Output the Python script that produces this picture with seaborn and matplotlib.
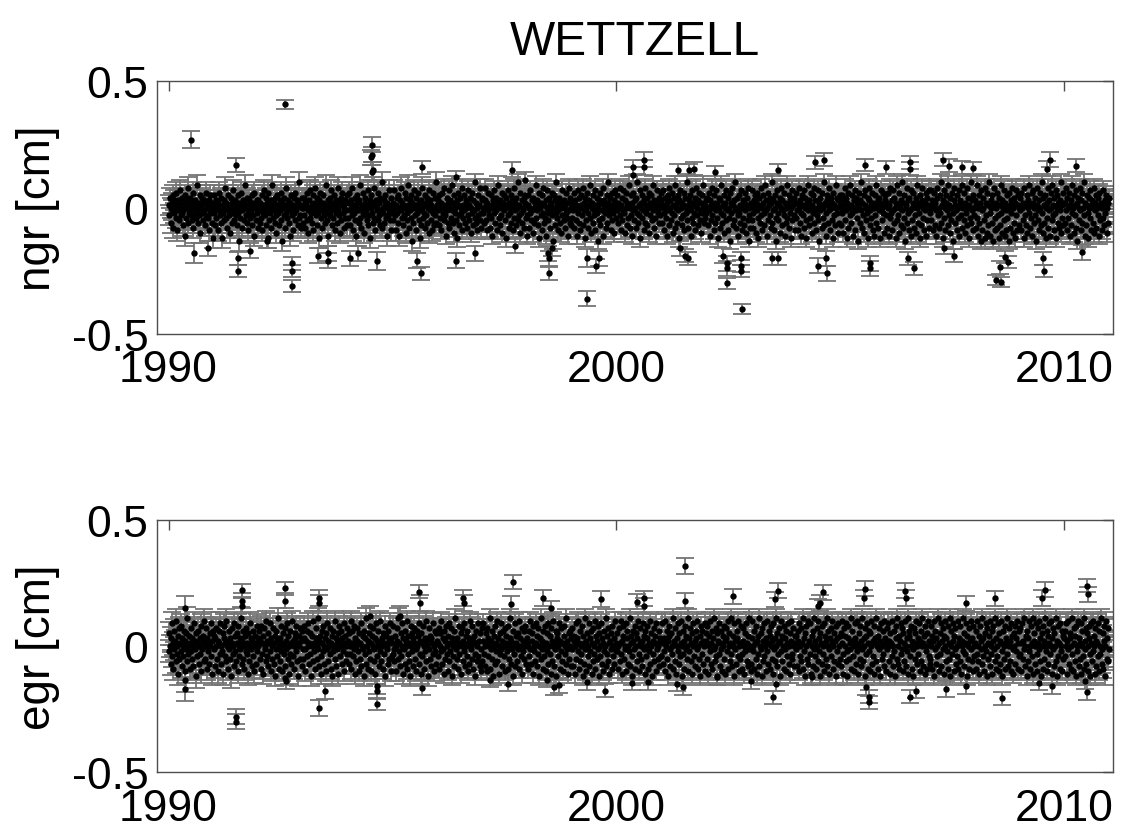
"""
WETTZELL north / east gradients with formal errors.
"""

import matplotlib
matplotlib.use("Agg")
import matplotlib.pyplot as plt
import seaborn as sns

YEARS = list(range(1990, 2011))

# bulk of the sessions, hundredths of cm, one string per year
NGR_BAND = [
    "1 -3 4 -6 0 2 -1 -8 5 3 -2 0 -4 6 -9 1 -1 3 -5 2 7 -3 0 -2 4 -7 -1 2 -11 5 0 -4 3 1 -6 8 -2 -1 4 -3 0 -5 2 6 -8 1 -2 3 -4 0 9 -1 -6 2 -3 5 -10 1 0 -2 4 -5 3 -1 -7 2 6 -3 0 1 -4 -9 3 -1 5 -2 0 -6 2 -12",
    "-2 5 -7 0 3 -4 1 -9 2 -1 6 -3 0 -6 4 -12 1 -2 3 -5 8 0 -4 2 -8 -1 5 -3 1 -10 0 4 -6 2 -2 7 -5 -1 3 0 -3 1 -7 5 -2 -13 2 0 -4 6 -1 -8 3 1 -5 2 9 -3 0 -6 4 -2 -9 1 3 -4 0 -1 5 -7 2 -3 6 -11 0 1 -5 3 -2 -8",
    "3 -1 -6 2 0 -4 5 -9 1 -2 7 -3 -1 4 -7 0 2 -12 6 -5 1 -2 3 -8 0 9 -4 -1 2 -6 4 -3 -10 1 5 -2 0 -7 3 -1 6 -5 2 -13 0 -3 4 1 -8 -2 8 -4 0 3 -6 -1 2 -11 5 0 -3 1 -9 4 -2 6 -5 0 -1 3 -7 2 -4 10 -3 1 -8 0 4 -6",
    "0 4 -3 -8 2 1 -5 6 -1 -10 3 0 -4 7 -2 -6 1 5 -9 2 -1 8 -3 0 -7 4 -2 1 -12 3 6 -4 0 -1 -8 2 5 -3 1 -6 9 -2 0 -5 3 -11 1 4 -3 -1 7 -7 2 0 -4 5 -9 1 -2 3 -6 0 8 -1 -3 2 -10 4 -5 1 6 -2 0 -8 3 -4 2 -1 -7 5",
    "-4 2 6 -1 -7 3 0 -3 8 -9 1 -2 4 -5 0 -11 5 2 -1 -6 3 9 -4 0 -8 1 -2 6 -3 -10 2 4 -1 0 -5 7 -7 1 -3 3 -12 0 5 -2 -6 2 8 -4 1 -9 3 -1 0 -5 6 -3 2 -7 4 -1 10 -8 0 -2 3 -6 1 5 -4 -11 2 0 -3 7 -1 -5 4 -9 1 -2",
    "2 -5 0 7 -3 -9 1 4 -2 -6 5 0 -11 3 -1 8 -4 2 -7 1 -3 6 0 -10 4 -2 -5 9 1 -8 3 -1 -4 5 -13 2 0 -6 7 -3 1 -9 4 -2 0 6 -5 2 -12 -1 3 -7 8 0 -4 1 -2 5 -8 -3 2 4 -6 0 -10 7 -1 3 -5 1 -9 6 -2 0 -7 4 -3 10 -6 1",
    "-1 3 -7 5 0 -4 2 -9 6 -2 1 -5 8 -3 0 -11 4 -1 2 -6 7 -8 0 3 -4 -1 9 -6 2 -10 5 -2 0 -5 3 -12 1 6 -3 -7 4 0 -2 8 -9 1 -4 5 -1 -6 3 0 -8 2 7 -3 -5 1 4 -10 0 -2 6 -7 3 -1 -4 10 -6 2 0 -9 5 -3 1 -5 8 -2 -8 3",
    "4 -2 0 -6 3 8 -5 1 -9 2 -1 6 -3 -8 0 5 -4 1 -11 3 7 -2 0 -6 4 -1 -9 2 9 -4 1 -7 3 0 -3 6 -10 2 -1 5 -5 0 -12 4 1 -3 7 -8 2 -2 0 5 -6 3 -9 1 8 -4 -1 2 -7 4 0 -5 10 -3 1 -10 6 -2 3 -6 0 -1 4 -8 2 5 -4 -11",
    "-3 1 5 -8 0 -2 7 -5 3 -1 -10 4 0 -6 2 9 -4 -1 3 -7 1 -12 6 0 -3 2 -9 5 -2 8 -6 1 -4 3 -11 0 7 -2 -5 4 1 -8 2 -1 6 -3 -13 0 5 -7 3 -2 10 -4 1 -9 -1 4 -6 2 0 -10 7 -3 1 -5 3 -8 0 6 -2 -4 2 -11 8 -1 -6 4 0 -7",
    "2 -4 -1 6 -8 3 0 -5 1 -11 7 -2 4 -6 0 -9 5 1 -3 8 -7 -1 2 -12 4 0 -5 6 -2 -8 3 1 -4 9 -10 0 2 -6 5 -3 -1 7 -9 1 -2 4 -13 0 3 -5 6 -7 2 -1 -4 8 -11 1 3 -2 0 -8 5 -6 2 10 -3 -1 4 -9 1 6 -5 0 -2 3 -10 7 -4 1",
    "-1 5 -6 2 0 -3 8 -9 1 4 -5 -1 7 -2 -10 3 0 6 -7 2 -4 1 9 -8 0 -3 5 -11 2 -1 6 -5 3 0 -8 4 -2 10 -6 1 -3 7 -12 2 0 -4 5 -1 -9 3 8 -6 1 -2 4 -7 0 6 -10 2 -3 1 5 -5 -1 9 -8 3 0 -4 2 -11 7 -2 1 -6 4 0 -3 6",
    "3 -6 1 7 -2 -9 0 4 -4 2 -11 5 -1 8 -7 0 3 -5 -2 6 -10 1 4 -3 9 -8 0 2 -6 5 -1 -12 3 7 -4 0 -7 2 1 -3 6 -9 4 -2 0 10 -5 1 -8 3 -1 5 -11 0 7 -4 2 -6 -2 4 -9 1 8 -3 0 -7 3 6 -5 -1 2 -10 5 -2 0 9 -6 1 -4 3",
    "-2 4 0 -7 6 -1 -11 3 1 -5 8 -3 0 -9 5 2 -6 -1 7 -4 1 -12 4 0 -8 3 -2 9 -6 1 -3 5 -10 0 2 -5 7 -1 -9 4 0 -4 6 -13 2 -2 8 -7 1 3 -5 -1 10 -8 0 4 -3 -11 5 -2 1 -6 7 -9 0 3 -4 2 -7 6 -1 -10 4 1 -5 8 -3 0 -8 2",
    "1 -5 7 -2 -8 3 0 5 -10 2 -1 6 -4 -12 4 1 -6 8 -3 0 -9 5 2 -2 -7 9 -1 3 -11 0 6 -5 1 -3 4 -8 2 10 -6 -1 3 -9 0 5 -4 -13 2 7 -2 -5 1 4 -10 0 8 -7 3 -1 -3 6 -11 2 0 -6 9 -4 1 -8 5 -2 3 -12 0 7 -5 1 -3 4 -9 2",
    "-4 6 -1 2 -9 0 8 -6 3 -2 -11 5 1 -3 7 -8 0 4 -5 -12 2 9 -1 -7 3 0 -4 6 -10 1 5 -2 -6 8 -1 3 -9 0 -3 7 -5 2 -13 4 -1 1 -8 6 0 -4 10 -7 2 -2 -11 5 3 -6 1 -1 8 -9 0 4 -5 2 -12 6 -3 1 -7 9 0 -2 4 -10 3 -6 1 5",
    "0 -7 5 -2 3 -10 1 8 -5 -1 4 -12 2 6 -8 0 -3 9 -6 1 -2 5 -11 3 0 7 -9 -1 4 -4 2 -13 6 0 -6 3 -1 10 -8 2 -3 5 -10 1 7 -5 0 -2 4 -12 3 8 -7 -1 1 -4 6 -9 2 0 -11 5 -3 9 -6 1 3 -8 -1 4 -12 2 7 -5 0 -2 6 -10 1 3",
    "5 -3 -8 2 0 6 -11 1 -4 8 -2 3 -9 -1 7 -6 4 0 -12 2 9 -5 1 -3 -10 6 0 -7 3 -1 10 -8 2 -4 5 -13 1 0 -6 8 -2 3 -9 4 -1 -11 7 0 -5 2 6 -8 1 -3 -10 4 0 9 -6 2 -2 -12 5 1 -7 3 8 -4 0 -9 2 -1 6 -11 4 -5 1 7 -8 0",
    "-2 7 -5 1 3 -9 0 6 -7 2 -1 -11 4 8 -3 0 -8 5 -2 10 -6 1 -12 3 7 -4 0 -9 2 5 -1 -7 9 -3 1 -10 4 0 -5 6 -2 -13 3 8 -6 1 -1 -9 5 0 -4 7 -11 2 3 -3 9 -8 0 1 -5 6 -10 2 -2 8 -7 0 4 -12 1 -4 10 -6 3 -1 -9 5 0 -3",
    "3 -8 1 -4 9 -11 0 5 -6 2 -13 7 -1 -9 4 0 -5 8 -12 2 -3 6 -10 1 -7 10 -2 -11 3 0 -6 5 -13 1 8 -4 -9 2 0 -8 6 -3 -12 4 1 -7 9 -2 -10 3 0 -5 7 -11 2 -1 -9 5 -4 0 -13 6 1 -8 3 -2 8 -10 0 4 -6 -12 2 7 -3 -9 1 5 -7 0",
    "-1 4 -9 6 0 -5 2 -12 8 -3 1 -7 5 -10 0 3 -2 9 -8 1 -4 6 -11 2 7 -6 0 -3 4 -13 1 8 -5 -1 3 -9 6 0 -7 10 -2 -10 4 1 -6 5 -12 0 2 -4 8 -8 -1 3 -11 6 0 -5 9 -3 1 -9 4 -2 7 -12 0 5 -6 2 -8 3 -1 10 -10 1 -4 6 -7 2",
    "2 -6 8 -1 -9 4 0 -4 6 -11 1 3 -7 9 -2 0 -10 5 -3 1 7 -8 2 -13 4 0 -5 8 -1 -9 3 6 -6 0 -3 10 -11 2 1 -7 5 -2 -12 4 0 -4 7 -9 1 3 -6 0 8 -10 2 -1 5 -8 0 -3 4 -11 6 1 -5 2 -9 0 7 -4 1 -7 3 -2 5 -10 0 2 -6 4",
]
NGR_SIG = [0.04, 0.04, 0.04, 0.04, 0.04, 0.04, 0.035, 0.035, 0.035, 0.035, 0.035,
           0.035, 0.035, 0.035, 0.035, 0.035, 0.035, 0.035, 0.035, 0.035, 0.035]

# single sessions outside the bulk
NGR_OUT_T = [1990.50, 1992.60, 1991.51, 1994.54, 1994.55, 1994.53, 1994.56, 1994.54, 1995.66, 1996.41,
             1990.56, 1991.54, 1991.54, 1992.75, 1992.75, 1992.75, 1990.87, 1993.33, 1993.57, 1993.57,
             1994.06, 1994.24, 1994.65, 1995.54, 1995.63, 1996.42, 1996.85, 1992.20, 1991.81, 1997.67,
             1997.96, 1997.74, 1998.50, 1998.50, 1998.48, 1998.57, 1999.34, 1999.34, 1999.54, 1999.60,
             2000.38, 2000.38, 2000.62, 2000.62, 2001.38, 2001.63, 2001.74, 2002.19, 2001.42, 2001.53,
             2001.60, 2002.46, 2002.46, 2002.48, 2002.37, 2002.78, 2002.78, 2002.78, 2002.81, 2002.95,
             2003.47, 2003.60, 2003.60, 2004.44, 2004.64, 2004.51, 2004.70, 2004.68, 2005.55, 2005.66,
             2005.67, 2006.02, 2006.55, 2006.56, 2006.52, 2006.65, 2007.30, 2007.43, 2007.72, 2007.97,
             2007.32, 2007.54, 2008.56, 2008.48, 2008.58, 2008.68, 2008.75, 2009.53, 2009.55, 2009.68,
             2009.62, 2010.26, 2010.39]
NGR_OUT_V = [0.27, 0.41, 0.17, 0.25, 0.21, 0.20, 0.15, 0.14, 0.16, 0.12,
             -0.18, -0.20, -0.25, -0.22, -0.25, -0.31, -0.16, -0.19, -0.18, -0.21,
             -0.20, -0.18, -0.21, -0.21, -0.26, -0.21, -0.18, -0.13, -0.17, 0.15,
             0.11, -0.15, -0.26, -0.20, -0.18, -0.16, -0.36, -0.20, -0.23, -0.20,
             0.16, 0.13, 0.19, 0.16, 0.15, 0.15, 0.155, 0.14, -0.16, -0.19,
             -0.20, -0.30, -0.24, -0.22, -0.19, -0.25, -0.23, -0.20, -0.40, -0.13,
             -0.20, -0.20, 0.15, 0.18, 0.19, -0.23, -0.26, -0.20, 0.17, -0.24,
             -0.22, 0.16, 0.155, 0.18, -0.20, -0.24, 0.19, 0.167, 0.16, 0.156,
             -0.16, -0.19, -0.236, -0.285, -0.295, -0.195, -0.215, -0.20, -0.25, 0.19,
             0.155, 0.167, -0.177]
NGR_OUT_E = [0.033, 0.017, 0.027, 0.03, 0.03, 0.03, 0.03, 0.03, 0.025, 0.025,
             0.04, 0.025, 0.024, 0.025, 0.025, 0.025, 0.03, 0.03, 0.03, 0.03,
             0.03, 0.03, 0.036, 0.03, 0.025, 0.03, 0.03, 0.03, 0.03, 0.03,
             0.03, 0.03, 0.027, 0.03, 0.03, 0.03, 0.03, 0.035, 0.027, 0.03,
             0.03, 0.03, 0.03, 0.03, 0.025, 0.025, 0.025, 0.025, 0.03, 0.025,
             0.025, 0.02, 0.03, 0.03, 0.03, 0.025, 0.025, 0.025, 0.02, 0.025,
             0.025, 0.025, 0.025, 0.025, 0.025, 0.03, 0.03, 0.03, 0.025, 0.03,
             0.03, 0.025, 0.025, 0.025, 0.025, 0.027, 0.025, 0.025, 0.025, 0.025,
             0.025, 0.025, 0.025, 0.02, 0.02, 0.025, 0.025, 0.025, 0.025, 0.03,
             0.03, 0.025, 0.03]

EGR_BAND = [
    "-2 5 0 -7 3 9 -4 1 -9 6 -1 2 -6 10 -3 0 -11 4 7 -5 1 -2 8 -8 3 0 -4 6 -10 2 -1 5 -6 11 0 -3 4 -9 1 7 -2 -5 3 0 -8 9 -1 2 -12 5 -4 1 6 -7 0 3 -3 8 -10 1 -1 4 -6 10 2 -5 0 7 -9 3 -2 1 -7 5 0 -4 9 -11 2 6",
    "4 -1 -8 3 0 7 -5 2 -10 6 1 -3 9 -7 0 -2 5 -11 3 8 -4 1 -6 10 0 -9 2 -1 6 -5 3 -12 7 1 -3 0 9 -8 4 -2 -6 5 1 -10 8 0 -4 3 -1 11 -7 2 -5 6 0 -9 4 -2 7 -3 1 -11 5 0 -6 9 -1 3 -8 2 6 -4 0 -10 4 1 -7 8 -2 3",
    "0 6 -5 2 -9 8 1 -3 4 -11 7 -1 0 -6 10 -4 2 -8 5 1 -2 9 -10 3 0 -5 7 -7 1 4 -12 6 -1 2 -4 11 -9 0 3 -6 8 -2 1 -10 5 -3 0 7 -8 2 -1 9 -5 4 -11 0 6 -3 1 -7 10 2 -4 0 -9 5 3 -2 8 -6 1 -12 4 0 7 -5 2 -8 6 -1",
    "-5 3 8 -1 -10 2 6 -4 0 9 -7 1 -3 5 -12 4 0 -6 10 -2 1 -9 7 3 -5 0 -1 11 -8 2 4 -4 -11 6 1 -2 8 -7 0 3 -10 5 -1 9 -6 2 0 -3 7 -9 1 4 -12 6 -2 0 10 -5 3 -8 1 -1 5 -11 8 2 -4 0 6 -7 3 -2 9 -10 1 4 -6 0 7 -3",
    "2 -7 5 0 -3 10 -9 1 6 -4 -1 8 -11 3 0 -6 7 2 -2 -10 5 1 -5 9 -8 0 4 -1 -12 6 3 -3 11 -7 0 2 -9 5 -2 8 -5 1 -10 4 0 7 -6 -1 3 -11 9 2 -4 0 6 -8 1 -2 10 -6 3 0 -9 5 -3 1 8 -12 4 -1 0 6 -7 2 -5 9 -10 3 1 -4",
    "-3 8 -1 -6 4 0 -10 7 2 -5 11 -2 1 -8 5 -4 0 9 -11 3 -1 6 -7 2 0 -9 10 -3 4 -6 1 -12 8 0 -2 5 -8 3 7 -5 1 -1 -10 6 0 4 -7 9 -3 2 -11 5 1 -4 8 0 -9 3 -2 10 -6 2 0 -12 7 -1 4 -5 3 -8 1 9 -3 0 -10 6 -2 5 -7 2",
    "1 -4 7 -9 0 5 -2 10 -7 3 -1 -11 6 2 -5 8 0 -3 4 -10 9 -6 1 -2 7 -12 3 0 -4 6 -8 2 11 -1 -5 3 0 -9 8 -3 1 5 -11 0 7 -6 2 -2 9 -8 4 0 -4 6 -10 1 3 -7 10 -1 0 -5 8 -9 2 4 -3 -12 6 1 -6 0 9 -4 2 -8 5 -1 -10 7",
    "-6 2 9 -3 0 -8 5 1 -10 7 3 -4 0 11 -9 2 -1 6 -5 -12 4 0 8 -7 1 -2 10 -6 3 0 -11 5 -3 9 -1 2 -8 6 -4 0 7 -10 1 4 -2 -9 8 0 -5 3 11 -7 2 -1 -12 6 0 -3 9 -8 4 1 -6 5 -1 10 -9 0 3 -4 7 -11 2 -2 6 -5 0 8 -7 1",
    "3 -9 0 6 -4 10 -1 -7 2 5 -11 8 -2 0 -6 9 1 -8 4 -3 7 -12 0 3 -5 11 -1 2 -9 6 -4 0 8 -10 1 5 -2 -7 9 0 -3 4 -11 7 2 -6 0 10 -8 1 -1 6 -12 3 5 -4 0 9 -9 2 -2 7 -6 1 -10 4 8 -3 0 -7 11 -1 2 -11 5 -5 0 6 -8 3",
    "-1 7 -8 2 4 -11 0 9 -5 3 -2 10 -9 1 6 -6 0 -3 8 -12 4 1 -7 11 -1 2 -10 5 -4 0 9 -8 3 -2 6 -11 1 7 -6 0 -3 10 -9 4 2 -5 8 -1 -12 5 0 -4 9 -7 3 1 -10 6 -2 0 11 -8 4 -3 -6 7 1 -11 2 5 -1 -9 8 0 -4 3 -7 10 -2 1",
    "5 -2 0 -9 7 1 -6 10 -3 2 -11 4 8 -5 0 -1 9 -10 3 6 -7 0 -2 11 -8 1 4 -4 -12 6 2 -1 8 -9 0 5 -6 3 10 -3 -10 1 7 -5 0 2 -8 9 -1 4 -11 6 0 -4 3 8 -9 1 -2 10 -7 5 0 -12 2 -3 7 -6 1 4 -10 9 -1 0 -5 6 -8 3 2 -4",
    "-4 9 1 -7 3 -2 10 -10 0 6 -5 2 -12 8 4 -1 -8 5 0 -3 11 -9 2 1 -6 7 -11 3 0 -2 9 -7 5 -4 1 10 -12 0 6 -3 2 -9 8 -1 4 -5 0 11 -10 3 -2 7 -6 1 5 -11 9 0 -4 2 -8 6 3 -1 10 -9 0 -5 4 -12 8 1 -3 6 -7 2 0 9 -10 5",
    "2 -5 8 -11 0 4 -2 10 -7 1 6 -9 3 -1 11 -6 0 -4 7 -12 5 2 -3 9 -8 1 -1 6 -10 4 0 8 -5 2 -11 7 3 -2 10 -9 0 5 -6 1 -3 11 -8 4 0 -12 9 -1 2 -7 6 3 -4 10 -10 0 1 -5 8 -3 -9 7 2 0 -11 5 -2 9 -6 1 4 -8 11 -1 0 -10",
    "-7 3 10 -2 0 -9 6 1 -5 8 -11 2 4 -3 11 -8 0 5 -1 -12 7 2 -6 9 -4 0 3 -10 10 -2 1 -7 6 4 -9 0 8 -5 2 -11 9 -1 3 -6 0 11 -8 5 1 -3 7 -12 2 -2 10 -6 4 0 -9 8 -1 3 -10 6 1 -4 9 -7 0 5 -11 2 10 -3 -5 7 0 -8 4 1",
    "4 -1 -8 6 2 -10 9 0 -4 7 -6 1 11 -9 3 -2 5 -12 8 0 -5 10 -7 2 1 -3 9 -11 4 0 6 -8 -1 11 -4 2 -9 7 0 -6 10 -2 3 -12 5 1 -7 8 -3 0 9 -10 4 2 -5 11 -8 0 6 -1 -11 3 7 -4 1 10 -9 0 5 -6 2 8 -12 3 -2 9 -7 0 4 -5",
    "-8 5 1 10 -3 -11 7 0 4 -6 9 -2 -12 3 8 -5 1 -1 11 -9 2 6 -4 0 -10 9 3 -7 1 -2 10 -11 5 0 -5 8 2 -8 -1 11 -6 3 0 -12 7 4 -3 9 -9 1 -2 6 -10 5 0 10 -7 2 -4 8 -11 1 3 -6 11 0 -9 4 -1 7 -12 2 9 -5 0 -3 6 -8 10 1",
    "3 -10 7 -1 0 9 -6 2 -11 5 1 -4 10 -8 0 6 -2 -12 8 3 -5 11 -7 0 4 -9 2 9 -3 -1 7 -10 5 1 -6 10 0 -8 3 -2 11 -11 4 6 -4 0 8 -9 2 -1 -12 7 5 -5 1 10 -7 0 3 -3 9 -10 2 6 -6 0 11 -8 1 4 -11 8 -2 0 5 -9 10 -4 2 -7",
    "-5 8 0 -9 4 2 -12 10 -1 6 -7 3 0 -4 11 -10 1 5 -3 9 -8 2 -1 7 -11 4 0 10 -6 3 -2 -9 8 1 -5 11 -12 0 6 -3 2 9 -10 4 -1 7 -7 0 -4 10 -9 3 1 -6 8 -11 2 0 -2 11 -8 5 -3 1 9 -12 4 0 -5 7 -9 2 10 -1 -6 3 -10 8 0 -4",
    "1 -9 6 -3 10 -6 0 4 -11 8 2 -1 -7 11 -4 3 -10 5 0 -2 9 -12 7 1 -5 4 -8 10 0 -3 6 -11 2 8 -1 -6 11 -9 3 0 -4 9 -10 5 2 -7 1 10 -2 -12 6 0 -5 8 -9 3 1 -3 11 -8 0 7 -6 2 -10 9 4 -1 -11 5 0 8 -7 3 -2 10 -9 1 6 -4",
    "-3 7 -10 1 9 -5 2 -1 11 -8 0 4 -12 6 3 -6 10 -2 0 -9 8 1 -4 11 -11 5 2 -7 0 9 -3 -10 7 1 -1 10 -6 3 -12 5 0 8 -9 2 -5 11 -2 0 6 -10 4 -7 9 1 -3 0 10 -11 3 -1 7 -8 5 0 -6 11 -12 2 8 -4 1 -9 9 0 -2 6 -10 4 -5 3",
    "6 -4 0 9 -11 2 -1 10 -7 3 5 -9 0 -3 11 -10 1 7 -6 4 -12 8 0 -2 10 -8 3 1 -5 9 -11 6 0 -4 11 -9 2 -1 7 -7 5 0 -10 8 3 -3 -12 9 1 -6 10 -2 0 4 -11 7 -8 2 1 -4 9 -10 6 0 -3 11 -7 -1 5 -9 8 2 -12 0 10 -5 3 -6 7 -1",
]
EGR_SIG = [0.045, 0.045, 0.04, 0.04, 0.04, 0.04, 0.035, 0.035, 0.035, 0.035, 0.035,
           0.035, 0.035, 0.035, 0.035, 0.035, 0.035, 0.035, 0.035, 0.035, 0.035]

EGR_OUT_T = [1990.37, 1990.36, 1990.36, 1991.64, 1991.64, 1991.63, 1991.51, 1991.51, 1992.61, 1992.60,
             1992.61, 1992.63, 1993.35, 1993.37, 1993.37, 1993.50, 1994.50, 1994.65, 1994.66, 1994.66,
             1995.17, 1995.60, 1995.61, 1995.66, 1996.58, 1996.59, 1997.18, 1997.68, 1997.64, 1997.59,
             1998.37, 1998.54, 1998.45, 1998.61, 1998.72, 1999.34, 1999.65, 1999.75, 2000.46, 2000.62,
             2000.62, 2000.34, 2000.71, 2001.53, 2001.53, 2001.35, 2001.48, 2002.61, 2002.25, 2003.00,
             2003.50, 2003.60, 2003.55, 2003.57, 2004.51, 2004.62, 2004.55, 2004.36, 2005.55, 2005.52,
             2005.63, 2005.63, 2005.58, 2006.44, 2006.47, 2006.55, 2006.70, 2007.80, 2007.35, 2007.80,
             2008.46, 2008.61, 2009.58, 2009.50, 2009.44, 2009.72, 2010.51, 2010.52, 2010.50, 2010.46]
EGR_OUT_V = [0.149, -0.135, -0.17, 0.22, 0.18, 0.16, -0.28, -0.30, 0.228, 0.18,
             -0.125, -0.14, 0.19, 0.17, -0.245, -0.18, 0.12, -0.23, -0.18, -0.16,
             0.118, 0.215, 0.17, -0.165, 0.19, 0.17, -0.133, 0.252, 0.166, -0.15,
             0.19, 0.15, -0.133, -0.164, -0.155, -0.144, 0.186, -0.177, 0.175, 0.189,
             0.16, -0.146, -0.144, 0.318, 0.18, -0.15, -0.163, 0.197, -0.124, -0.14,
             -0.203, 0.219, 0.185, -0.15, 0.157, 0.213, 0.17, -0.124, 0.226, 0.19,
             -0.223, -0.20, -0.163, 0.219, 0.19, -0.20, -0.18, 0.169, -0.17, -0.16,
             0.189, -0.207, 0.223, 0.19, -0.146, -0.16, 0.239, 0.205, -0.183, -0.14]
EGR_OUT_E = [0.047, 0.046, 0.046, 0.025, 0.03, 0.03, 0.03, 0.03, 0.025, 0.03,
             0.03, 0.03, 0.03, 0.03, 0.033, 0.03, 0.04, 0.025, 0.03, 0.03,
             0.04, 0.026, 0.03, 0.03, 0.03, 0.03, 0.03, 0.028, 0.03, 0.03,
             0.03, 0.03, 0.03, 0.03, 0.03, 0.03, 0.03, 0.025, 0.03, 0.03,
             0.03, 0.03, 0.03, 0.032, 0.03, 0.03, 0.03, 0.03, 0.03, 0.03,
             0.025, 0.03, 0.03, 0.03, 0.03, 0.03, 0.03, 0.03, 0.03, 0.03,
             0.025, 0.025, 0.03, 0.03, 0.03, 0.025, 0.025, 0.03, 0.03, 0.03,
             0.03, 0.025, 0.03, 0.03, 0.03, 0.03, 0.026, 0.03, 0.03, 0.03]

XTICKS = [1990, 2000, 2010]
YTICKS = [-0.5, 0, 0.5]
YTICKLABELS = ["-0.5", "0", "0.5"]

BAR_GRAY = "#747474"
FRAME = "#4d4d4d"

sns.set_theme(style="white")
plt.rcParams["font.family"] = ["Liberation Sans", "DejaVu Sans"]
plt.rcParams["axes.unicode_minus"] = False


def draw_panel(ax, band, sig, out_t, out_v, out_e, label):
    t, v, e = [], [], []
    for year, row, s in zip(YEARS, band, sig):
        vals = [int(x) for x in row.split()]
        for i, val in enumerate(vals):
            t.append(year + (i + 0.5) / len(vals))
            v.append(val / 100.)
            e.append(s)
    t += out_t
    v += out_v
    e += out_e

    ax.errorbar(t, v, yerr=e, fmt="none", ecolor=BAR_GRAY,
                elinewidth=1.3, capsize=6.4, capthick=1.3, zorder=2)
    sns.scatterplot(x=t, y=v, ax=ax, color="black", s=21,
                    linewidth=0, zorder=3, legend=False)

    ax.set(xlim=(1989.75, 2011.09), ylim=(-0.5, 0.5))
    ax.set_xticks(XTICKS)
    ax.set_xticklabels([str(x) for x in XTICKS])
    ax.set_yticks(YTICKS)
    ax.set_yticklabels(YTICKLABELS)
    ax.tick_params(direction="in", length=7, width=1.0, color=FRAME,
                   top=True, right=True, labelsize=32, labelcolor="black")
    ax.tick_params(axis="x", pad=11)
    ax.tick_params(axis="y", pad=6.5)
    for sp in ax.spines.values():
        sp.set_color(FRAME)
        sp.set_linewidth(1.0)
        sp.set_visible(True)
    ax.set_ylabel(label, fontsize=33, color="black")
    ax.yaxis.set_label_coords(-0.102, 0.5)
    ax.set_xlabel("")


FIG = plt.figure(figsize=(11.28, 8.29), dpi=100)
ax1 = FIG.add_axes([0.1395, 0.5959, 0.8473, 0.3046])
ax2 = FIG.add_axes([0.1395, 0.0672, 0.8473, 0.3047])

draw_panel(ax1, NGR_BAND, NGR_SIG, NGR_OUT_T, NGR_OUT_V, NGR_OUT_E, "ngr [cm]")
draw_panel(ax2, EGR_BAND, EGR_SIG, EGR_OUT_T, EGR_OUT_V, EGR_OUT_E, "egr [cm]")

ax1.set_title("WETTZELL", fontsize=34.5, pad=20, color="black")

FIG.savefig("out.png", dpi=100)
